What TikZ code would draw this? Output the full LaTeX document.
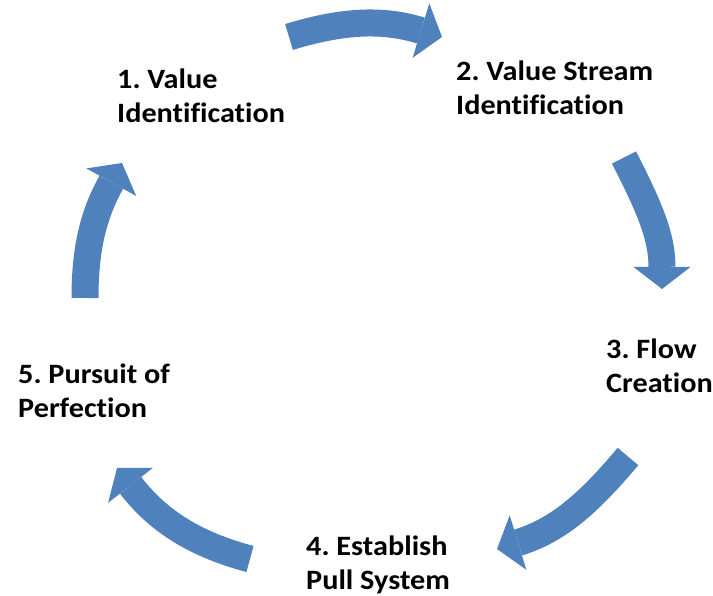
\documentclass[tikz,border=0pt]{standalone}
\usepackage{fontspec}
\setmainfont{Carlito}[Ligatures=NoCommon,FakeStretch=1.08]
\usetikzlibrary{arrows.meta}
\definecolor{cycleblue}{RGB}{79,129,189}
\tikzset{
  stage/.style={anchor=base west, align=left, inner sep=0pt,
    font=\frenchspacing\bfseries\fontsize{28}{34}\selectfont, text=black},
  cyclearrow/.style={draw=cycleblue, line width=27pt, line cap=butt,
    -{Triangle[width=57pt,length=22pt,line width=0pt]}}
}
\begin{document}
\begin{tikzpicture}[x=1pt,y=1pt]
  \useasboundingbox (0,0) rectangle (713,596);

  % stage labels (anchored at the baseline of their last line)
  \node[stage] (s1) at (117,473) {1. Value\\Identification};
  \node[stage] (s2) at (456,481) {2. Value Stream\\Identification};
  \node[stage] (s3) at (606,203) {3. Flow\\Creation};
  \node[stage] (s4) at (306,6)   {4. Establish\\Pull System};
  \node[stage] (s5) at (18,178)  {5. Pursuit of\\Perfection};

  % ends of the curved block arrows
  \coordinate (a1s) at (289,559); \coordinate (a1e) at (442,559);
  \coordinate (a2s) at (624,438.5); \coordinate (a2e) at (662,307);
  \coordinate (a3s) at (628,139.5); \coordinate (a3e) at (497,47);
  \coordinate (a4s) at (250,37); \coordinate (a4e) at (117,128);
  \coordinate (a5s) at (85,298); \coordinate (a5e) at (122,433);

  % clockwise cycle
  \draw[cyclearrow] (a1s) to[out=17,in=163] (a1e);
  \draw[cyclearrow] (a2s) to[out=-63,in=90] (a2e);
  \draw[cyclearrow] (a3s) to[out=230,in=17] (a3e);
  \draw[cyclearrow] (a4s) to[out=165,in=308] (a4e);
  \draw[cyclearrow] (a5s) to[out=90,in=241] (a5e);
\end{tikzpicture}
\end{document}
